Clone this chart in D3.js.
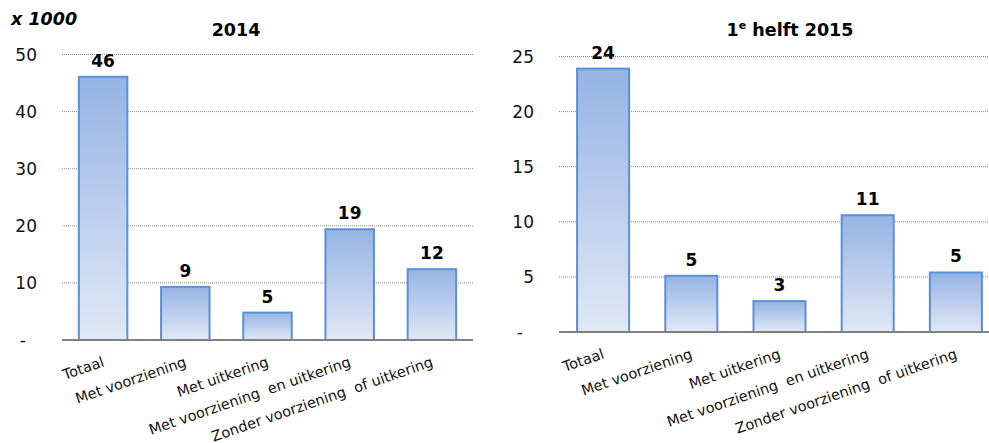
<!DOCTYPE html>
<html>
<head>
<meta charset="utf-8">
<script src="https://cdnjs.cloudflare.com/ajax/libs/d3/7.8.5/d3.min.js"></script>
<style>
  body { margin: 0; background: #fff; }
  svg text { font-family: Verdana, "DejaVu Sans", sans-serif; white-space: pre; }
</style>
</head>
<body>
<div id="chart"></div>
<script>
// categories shared by both panels
var categories = ["Totaal", "Met voorziening", "Met uitkering",
                  "Met voorziening  en uitkering", "Zonder voorziening  of uitkering"];

// values in thousands
var values2014 = [46.1, 9.3, 4.8, 19.4, 12.4];
var values2015 = [23.9, 5.1, 2.8, 10.6, 5.4];

var ticks2014 = [0, 10, 20, 30, 40, 50];
var ticks2015 = [0, 5, 10, 15, 20, 25];

var svg = d3.select("#chart").append("svg")
    .attr("width", 989)
    .attr("height", 443);

var defs = svg.append("defs");
var grad = defs.append("linearGradient")
    .attr("id", "barGrad")
    .attr("x1", 0).attr("y1", 0).attr("x2", 0).attr("y2", 1);
grad.append("stop").attr("offset", "0%").attr("stop-color", "#95b3e4");
grad.append("stop").attr("offset", "100%").attr("stop-color", "#e1e8f5");

svg.append("text")
    .attr("x", 11).attr("y", 25)
    .attr("font-size", 17.5).attr("font-weight", "bold").attr("font-style", "italic")
    .text("x 1000");

function drawChart(opt) {
    var x = d3.scaleBand()
        .domain(categories)
        .range([opt.left, opt.right])
        .paddingInner(opt.pad)
        .paddingOuter(opt.pad / 2);

    var y = d3.scaleLinear()
        .domain([0, opt.max])
        .range([opt.bottom, opt.top]);

    var g = svg.append("g");

    // dotted gridlines
    g.selectAll("line.grid")
        .data(opt.ticks.filter(d => d > 0))
        .enter()
        .append("line")
        .attr("class", "grid")
        .attr("x1", opt.left).attr("x2", opt.right)
        .attr("y1", d => y(d)).attr("y2", d => y(d))
        .attr("stroke", "#8a8a8a")
        .attr("stroke-width", 1)
        .attr("stroke-dasharray", "1,1");

    // y tick labels
    g.selectAll("text.tick")
        .data(opt.ticks)
        .enter()
        .append("text")
        .attr("class", "tick")
        .attr("x", d => d === 0 ? opt.left - 36 : opt.left - 25)
        .attr("y", d => y(d))
        .attr("dy", "0.36em")
        .attr("text-anchor", "end")
        .attr("font-size", 17)
        .attr("fill", "#111")
        .text(d => d === 0 ? "-" : d);

    // bars
    g.selectAll("rect.bar")
        .data(opt.values)
        .enter()
        .append("rect")
        .attr("class", "bar")
        .attr("x", (d, i) => x(categories[i]))
        .attr("y", d => y(d))
        .attr("width", x.bandwidth())
        .attr("height", d => y(0) - y(d))
        .attr("fill", "url(#barGrad)")
        .attr("stroke", "#5a8fda")
        .attr("stroke-width", 2);

    // baseline
    g.append("line")
        .attr("x1", opt.left).attr("x2", opt.right)
        .attr("y1", y(0)).attr("y2", y(0))
        .attr("stroke", "#808080")
        .attr("stroke-width", 2);

    // value labels
    g.selectAll("text.val")
        .data(opt.values)
        .enter()
        .append("text")
        .attr("class", "val")
        .attr("x", (d, i) => x(categories[i]) + x.bandwidth() / 2)
        .attr("y", d => y(d) - 10)
        .attr("text-anchor", "middle")
        .attr("font-size", 17)
        .attr("font-weight", "bold")
        .text(d => Math.round(d));

    // category labels, rotated
    g.selectAll("text.cat")
        .data(categories)
        .enter()
        .append("text")
        .attr("class", "cat")
        .attr("transform", d => "translate(" + (x(d) + x.bandwidth() / 2 + 2) + "," + (y(0) + 26) + ") rotate(-19)")
        .attr("text-anchor", "end")
        .attr("font-size", 14.5)
        .attr("fill", "#111")
        .text(d => d);

    // title
    var t = g.append("text")
        .attr("x", opt.titleX).attr("y", 36)
        .attr("text-anchor", "middle")
        .attr("font-size", 17.5)
        .attr("font-weight", "bold");
    if (opt.sup) {
        t.append("tspan").text("1");
        t.append("tspan").attr("font-size", 11).attr("dy", -7).text("e");
        t.append("tspan").attr("dy", 7).text(" helft 2015");
    } else {
        t.text(opt.title);
    }
}

drawChart({
    values: values2014, ticks: ticks2014, max: 50,
    left: 62, right: 473, top: 54.5, bottom: 340,
    pad: 0.41, titleX: 236, title: "2014"
});

drawChart({
    values: values2015, ticks: ticks2015, max: 25,
    left: 559, right: 1000, top: 56.5, bottom: 332,
    pad: 0.41, titleX: 790, sup: true
});
</script>
</body>
</html>
